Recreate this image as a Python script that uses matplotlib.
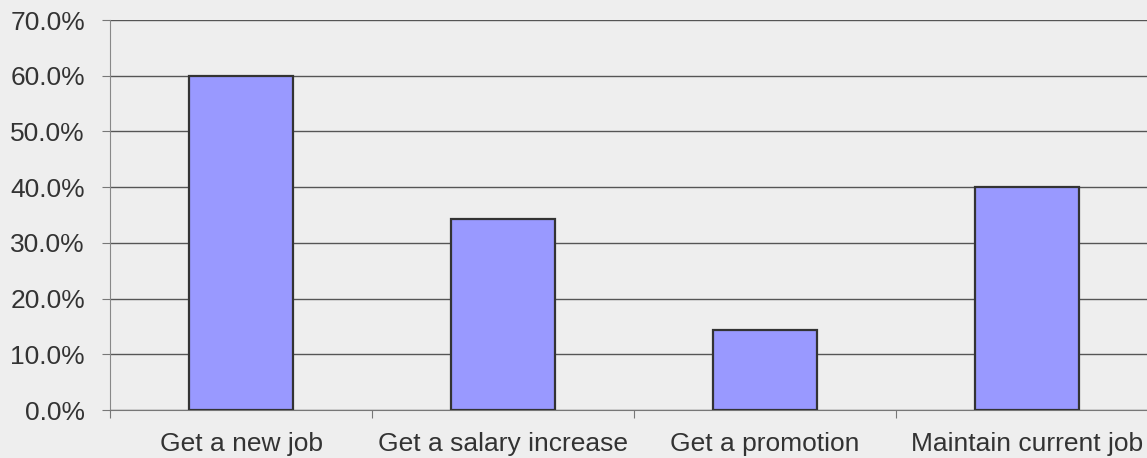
import matplotlib.pyplot as plt
from matplotlib.ticker import FuncFormatter

plt.rcParams['font.family'] = ['Liberation Sans', 'DejaVu Sans']

categories = ['Get a new job', 'Get a salary increase', 'Get a promotion', 'Maintain current job']
shares = [60.0, 34.3, 14.3, 40.0]  # percent
y_ticks = [0, 10, 20, 30, 40, 50, 60, 70]

bg = '#eeeeee'
fig = plt.figure(figsize=(11.47, 4.58), dpi=100, facecolor=bg)
# axes runs a little past the right edge, as in the reference
ax = fig.add_axes([110 / 1147, 48 / 458, 1048 / 1147, 390 / 458], facecolor=bg)

x = range(len(categories))
ax.bar(x, shares, width=0.4, color='#9999ff', edgecolor='#333333', linewidth=1.6, zorder=3)

ax.set_xlim(-0.5, len(categories) - 0.5)
ax.set_ylim(0, 70)
ax.set_yticks(y_ticks)
ax.yaxis.set_major_formatter(FuncFormatter(lambda v, p: f'{v:.1f}%'))
ax.yaxis.grid(True, color='#555555', linewidth=1.0, zorder=0)

# category ticks sit between the bars
ax.set_xticks([i - 0.5 for i in range(len(categories) + 1)])
ax.set_xticklabels([])
ax.set_xticks(list(x), minor=True)
ax.set_xticklabels(categories, minor=True)
ax.tick_params(axis='x', which='minor', length=0, pad=16, labelsize=19, labelcolor='#333333')
ax.tick_params(axis='x', which='major', length=6, color='#777777', direction='out')
ax.tick_params(axis='y', length=6, color='#777777', pad=12, labelsize=19, labelcolor='#333333')

for s in ['top', 'right']:
    ax.spines[s].set_visible(False)
ax.spines['left'].set_color('#888888')
ax.spines['bottom'].set_color('#777777')

fig.savefig('out.png', dpi=100, facecolor=bg)
